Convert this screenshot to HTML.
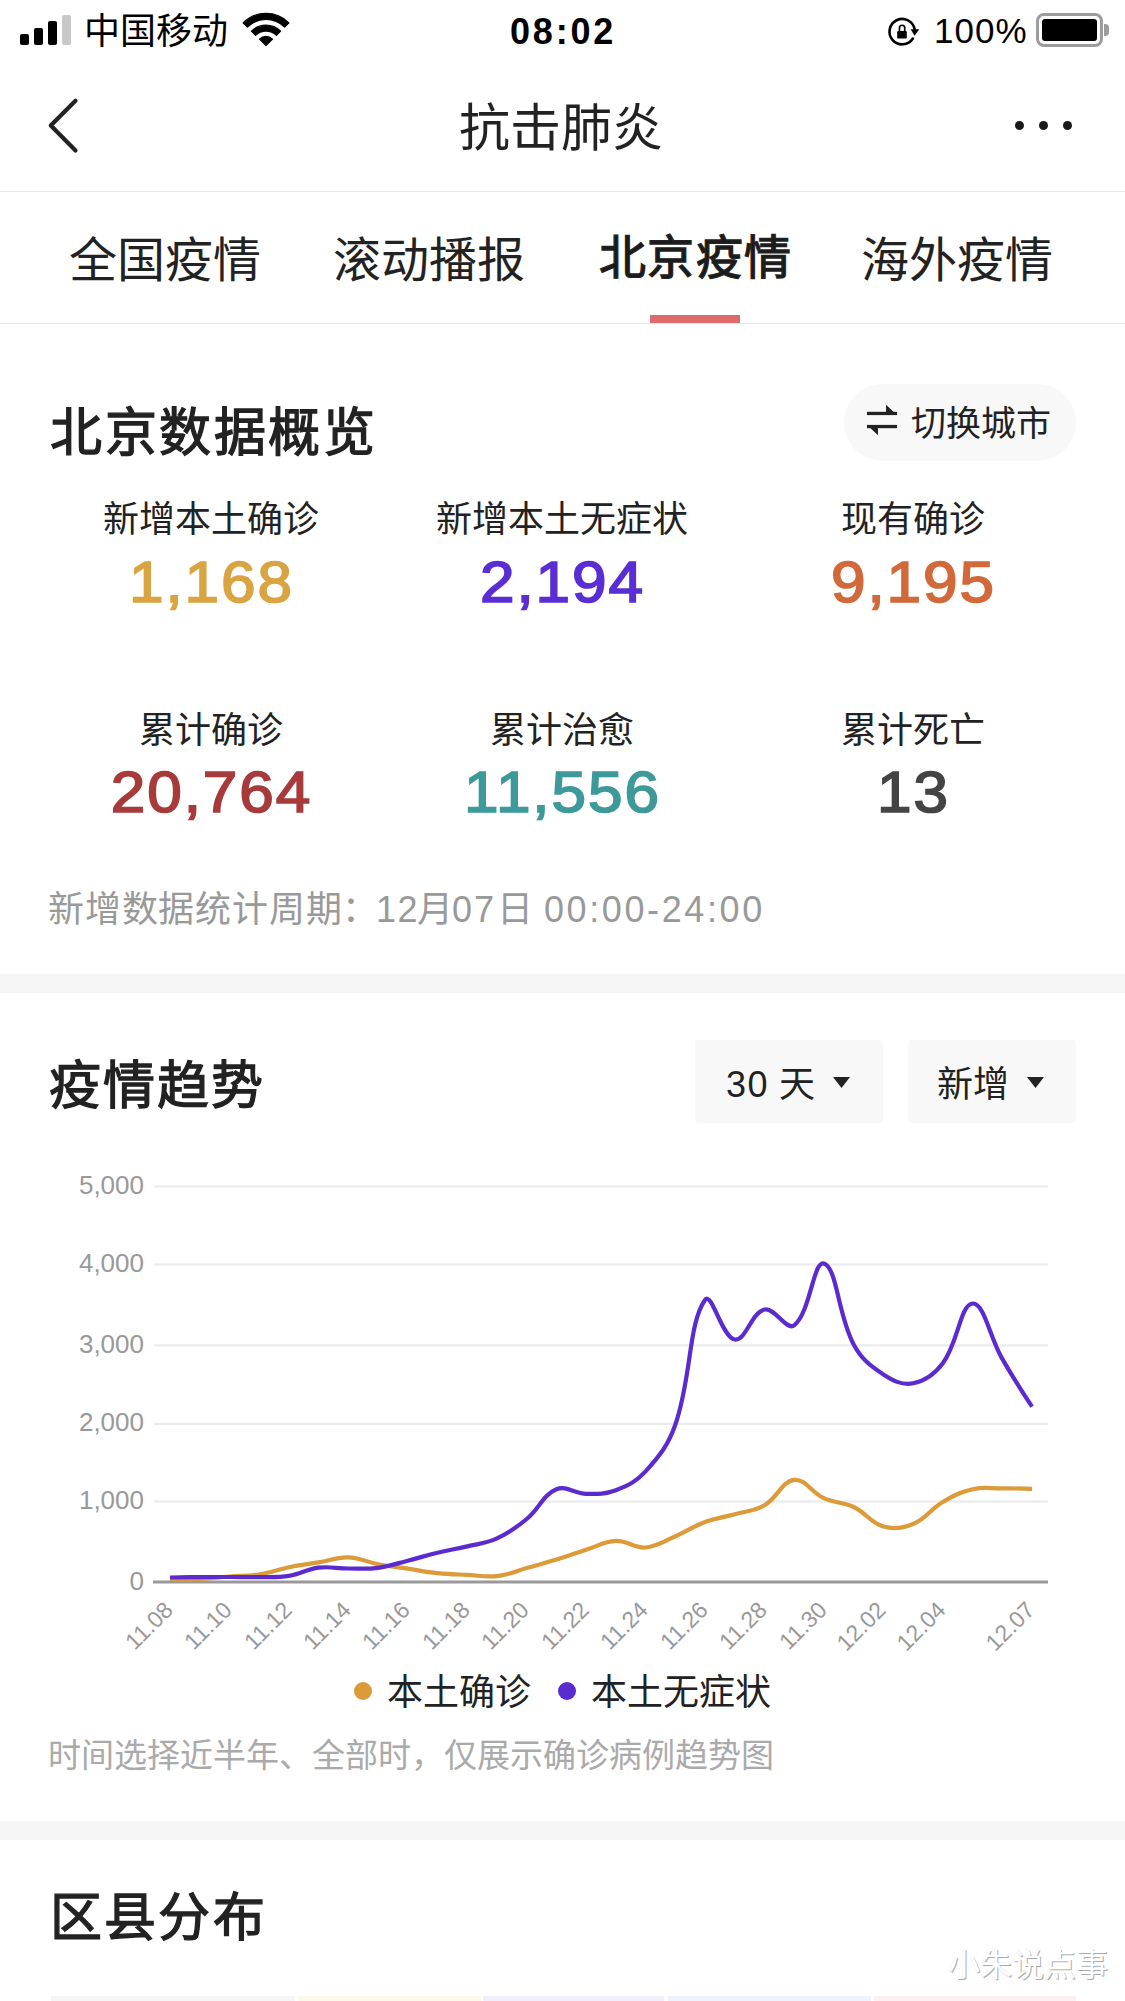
<!DOCTYPE html>
<html lang="zh-CN">
<head>
<meta charset="utf-8">
<style>
*{margin:0;padding:0;box-sizing:border-box}
html,body{width:1125px;height:2001px;overflow:hidden;background:#fff}
body{position:relative;font-family:"Liberation Sans",sans-serif;color:#222}
.a{position:absolute;white-space:nowrap}
.t{line-height:1}
.band{position:absolute;left:0;width:1125px;background:#f6f6f6}
.num{position:absolute;font-weight:normal;-webkit-text-stroke:1.7px currentColor;font-size:58px;line-height:1;text-align:center;width:351px;letter-spacing:1.8px;text-indent:1.8px;transform:scaleX(1.07)}
.lbl{position:absolute;font-size:36px;line-height:1;text-align:center;width:351px;color:#222}
.ylab{position:absolute;right:981px;font-size:26px;line-height:1;color:#999;text-align:right}
.xlab{position:absolute;font-size:23px;line-height:1;color:#999;transform-origin:100% 0;transform:rotate(-45deg);text-align:right}
</style>
</head>
<body>
<!-- status bar -->
<div class="a" style="left:20px;top:34px;width:9px;height:11px;background:#000;border-radius:2px"></div>
<div class="a" style="left:34px;top:28px;width:9px;height:17px;background:#000;border-radius:2px"></div>
<div class="a" style="left:48px;top:21px;width:9px;height:24px;background:#000;border-radius:2px"></div>
<div class="a" style="left:62px;top:15px;width:9px;height:30px;background:#c8c8c8;border-radius:2px"></div>
<div class="a t" style="left:84px;top:14px;font-size:36px;color:#000">中国移动</div>
<svg class="a" style="left:236px;top:8px" width="60" height="42" viewBox="0 0 60 42">
<g fill="#000" stroke="#000" stroke-width="1.2" stroke-linejoin="round">
<path d="M7.1 14.9 A32.4 32.4 0 0 1 52.9 14.9 L48.6 19.2 A26.3 26.3 0 0 0 11.4 19.2 Z"/>
<path d="M15.4 23.2 A20.6 20.6 0 0 1 44.6 23.2 L40.4 27.4 A14.7 14.7 0 0 0 19.6 27.4 Z"/>
<path d="M30 37.6 L23.5 31.1 A9.2 9.2 0 0 1 36.5 31.1 Z"/>
</g>
</svg>
<div class="a t" style="left:510px;top:14px;font-size:36px;font-weight:bold;color:#000;letter-spacing:2.8px">08:02</div>
<svg class="a" style="left:886px;top:16px" width="36" height="32" viewBox="0 0 36 32">
<path d="M28.7 13.4 A12.7 12.7 0 1 0 26.9 22.5" stroke="#000" stroke-width="2.6" fill="none" stroke-linecap="round"/>
<path d="M24.6 13.2 L33.2 13.2 L28.6 19.8 Z" fill="#000"/>
<rect x="11.2" y="15" width="9.6" height="7.6" rx="1.2" fill="#000"/>
<path d="M13.45 15.5 V11.9 A2.65 2.65 0 0 1 18.75 11.9 V15.5" stroke="#000" stroke-width="1.7" fill="none"/>
</svg>
<div class="a t" style="left:934px;top:13px;font-size:35px;color:#000;letter-spacing:1px">100%</div>
<div class="a" style="left:1036px;top:13px;width:67px;height:34px;border:3px solid #9c9c9c;border-radius:8px"></div>
<div class="a" style="left:1042px;top:19px;width:55px;height:22px;background:#000;border-radius:3px"></div>
<div class="a" style="left:1104px;top:24px;width:5px;height:12px;background:#9c9c9c;border-radius:0 4px 4px 0"></div>
<!-- nav -->
<svg class="a" style="left:40px;top:95px" width="45" height="62" viewBox="0 0 45 62">
<path d="M35.5 5.7 L10.8 30.6 L35.5 55.4" stroke="#222" stroke-width="4.2" stroke-linecap="round" stroke-linejoin="round" fill="none"/>
</svg>
<div class="a t" style="left:459px;top:103px;font-size:51px;color:#222">抗击肺炎</div>
<div class="a" style="left:1015px;top:121px;width:9px;height:9px;border-radius:50%;background:#1a1a1a"></div>
<div class="a" style="left:1039px;top:121px;width:9px;height:9px;border-radius:50%;background:#1a1a1a"></div>
<div class="a" style="left:1063px;top:121px;width:9px;height:9px;border-radius:50%;background:#1a1a1a"></div>
<div class="a" style="left:0;top:191px;width:1125px;height:1px;background:#e9e9e9"></div>
<!-- tabs -->
<div class="a t" style="left:69px;top:237px;font-size:48px;color:#222">全国疫情</div>
<div class="a t" style="left:333px;top:237px;font-size:48px;color:#222">滚动播报</div>
<div class="a t" style="left:599px;top:234px;font-size:47px;letter-spacing:1.3px;-webkit-text-stroke:1.3px #222;color:#1a1a1a">北京疫情</div>
<div class="a t" style="left:861px;top:237px;font-size:48px;color:#222">海外疫情</div>
<div class="a" style="left:650px;top:315px;width:90px;height:8px;background:#dd6b6b"></div>
<div class="a" style="left:0;top:323px;width:1125px;height:1px;background:#e9e9e9"></div>
<!-- overview -->
<div class="a t" style="left:50px;top:407px;font-size:52px;letter-spacing:2.6px;-webkit-text-stroke:1.3px #222;color:#222">北京数据概览</div>
<div class="a" style="left:844px;top:384px;width:232px;height:77px;border-radius:38.5px;background:#f8f8f8"></div>
<svg class="a" style="left:865px;top:403px" width="34" height="34" viewBox="0 0 34 34">
<g fill="#222">
<rect x="2" y="8.8" width="30" height="3.3"/>
<path d="M21 1.8 L32 12.1 L21 12.1 Z"/>
<rect x="2" y="21.9" width="30" height="3.3"/>
<path d="M2 21.9 L13 21.9 L13 32.2 Z"/>
</g>
</svg>
<div class="a t" style="left:911px;top:406px;font-size:35px;color:#222">切换城市</div>

<div class="lbl" style="left:35px;top:502px">新增本土确诊</div>
<div class="lbl" style="left:386px;top:502px">新增本土无症状</div>
<div class="lbl" style="left:737px;top:502px">现有确诊</div>
<div class="num" style="left:35px;top:553px;color:#d9a441">1,168</div>
<div class="num" style="left:386px;top:553px;color:#5a2ed4">2,194</div>
<div class="num" style="left:737px;top:553px;color:#d2693a">9,195</div>
<div class="lbl" style="left:35px;top:713px">累计确诊</div>
<div class="lbl" style="left:386px;top:713px">累计治愈</div>
<div class="lbl" style="left:737px;top:713px">累计死亡</div>
<div class="num" style="left:35px;top:763px;color:#a73a3a">20,764</div>
<div class="num" style="left:386px;top:763px;color:#3e9a9a">11,556</div>
<div class="num" style="left:737px;top:763px;color:#444">13</div>
<div class="a t" style="left:48px;top:892px;font-size:36px;color:#999;letter-spacing:0.8px">新增数据统计周期：</div>
<div class="a t" style="left:376px;top:892px;font-size:36px;color:#999;letter-spacing:1.5px">12</div>
<div class="a t" style="left:417px;top:892px;font-size:36px;color:#999">月</div>
<div class="a t" style="left:452px;top:892px;font-size:36px;color:#999;letter-spacing:2px">07</div>
<div class="a t" style="left:497px;top:892px;font-size:36px;color:#999">日</div>
<div class="a t" style="left:544px;top:892px;font-size:36px;color:#999;letter-spacing:2.6px">00:00-24:00</div>
<div class="band" style="top:974px;height:19px"></div>
<!-- trend -->
<div class="a t" style="left:49px;top:1060px;font-size:52px;letter-spacing:2px;-webkit-text-stroke:1.3px #222;color:#222">疫情趋势</div>
<div class="a" style="left:695px;top:1040px;width:188px;height:83px;border-radius:4px;background:#f8f8f8"></div>
<div class="a" style="left:908px;top:1040px;width:168px;height:83px;border-radius:4px;background:#f8f8f8"></div>
<div class="a t" style="left:726px;top:1067px;font-size:36px;color:#222"><span style="letter-spacing:1.5px">30</span> 天</div>
<svg class="a" style="left:833px;top:1077px" width="17" height="11" viewBox="0 0 17 11"><path d="M0 0 H17 L8.5 11 Z" fill="#222"/></svg>
<div class="a t" style="left:937px;top:1067px;font-size:36px;color:#222">新增</div>
<svg class="a" style="left:1027px;top:1077px" width="17" height="11" viewBox="0 0 17 11"><path d="M0 0 H17 L8.5 11 Z" fill="#222"/></svg>

<svg class="a" style="left:0;top:0" width="1125" height="2001" viewBox="0 0 1125 2001">
<g stroke="#ececec" stroke-width="2.4"><path d="M154 1186.4 H1048"/><path d="M154 1264.6 H1048"/><path d="M154 1345.4 H1048"/><path d="M154 1423.9 H1048"/><path d="M154 1501.5 H1048"/></g>
<path d="M153 1582 H1048" stroke="#999" stroke-width="3"/>
<path id="po" d="M170.0 1579.5 C170.0 1579.5 187.9 1579.6 199.7 1579.0 C211.6 1578.4 217.6 1577.4 229.4 1576.5 C241.3 1575.6 247.4 1576.3 259.2 1574.5 C271.2 1572.6 276.9 1569.7 288.9 1567.3 C300.7 1564.9 306.7 1564.4 318.6 1562.4 C330.5 1560.4 336.5 1556.9 348.3 1557.3 C360.3 1557.7 366.1 1561.9 378.1 1564.2 C389.9 1566.5 395.9 1566.9 407.8 1568.7 C419.7 1570.5 425.6 1571.9 437.5 1573.1 C449.4 1574.3 455.3 1574.3 467.2 1574.9 C479.1 1575.5 485.3 1577.4 497.0 1576.1 C509.1 1574.7 514.8 1571.4 526.7 1568.1 C538.6 1564.8 544.6 1563.2 556.4 1559.6 C568.4 1555.9 574.2 1553.6 586.1 1549.8 C598.0 1546.1 603.9 1541.4 615.9 1540.9 C627.6 1540.4 633.9 1548.4 645.6 1547.5 C657.7 1546.6 663.7 1541.4 675.3 1536.4 C687.4 1531.2 692.7 1526.6 705.0 1522.0 C716.5 1517.7 722.9 1517.5 734.8 1514.2 C746.7 1510.8 754.0 1511.4 764.5 1505.3 C777.7 1497.7 781.6 1481.4 794.2 1479.9 C805.4 1478.6 811.3 1492.5 823.9 1498.2 C835.1 1503.3 842.6 1501.7 853.7 1507.0 C866.4 1513.0 870.4 1522.8 883.4 1526.5 C894.2 1529.6 902.5 1528.4 913.1 1524.0 C926.3 1518.6 930.1 1509.4 942.8 1502.0 C953.9 1495.5 960.2 1492.1 972.6 1489.3 C983.9 1486.7 990.4 1488.5 1002.3 1488.4 C1014.2 1488.3 1032.0 1488.8 1032.0 1488.8" stroke="#dc9a38" stroke-width="4.2" fill="none" stroke-linejoin="round" stroke-linecap="butt"/>
<path id="pp" d="M170.0 1577.5 C170.0 1577.5 187.8 1577.2 199.7 1577.1 C211.6 1577.0 217.6 1577.0 229.4 1577.0 C241.3 1577.0 247.3 1577.3 259.2 1577.1 C271.1 1576.9 277.2 1577.7 288.9 1575.9 C301.0 1574.0 306.5 1569.2 318.6 1567.7 C330.3 1566.2 336.5 1568.5 348.3 1568.5 C360.2 1568.5 366.3 1569.3 378.1 1567.8 C390.1 1566.2 395.9 1563.7 407.8 1560.7 C419.7 1557.7 425.6 1555.6 437.5 1552.7 C449.3 1549.9 455.4 1549.2 467.2 1546.4 C479.2 1543.5 485.9 1543.5 497.0 1538.4 C509.7 1532.5 515.8 1528.0 526.7 1519.0 C539.6 1508.4 542.6 1495.2 556.4 1489.3 C566.3 1485.1 574.2 1493.6 586.1 1493.8 C598.0 1494.0 604.9 1494.3 615.9 1490.2 C628.7 1485.3 636.3 1481.5 645.6 1471.3 C660.1 1455.3 668.1 1445.3 675.3 1424.7 C691.9 1376.8 687.9 1324.6 705.0 1300.0 C711.7 1290.5 721.9 1337.5 734.8 1339.5 C745.7 1341.3 751.3 1312.7 764.5 1309.5 C775.0 1307.0 786.4 1331.4 794.2 1325.3 C810.2 1313.0 813.4 1260.1 823.9 1263.5 C837.2 1267.8 837.7 1314.6 853.7 1344.4 C861.5 1359.0 869.7 1365.4 883.4 1374.4 C893.5 1381.0 902.1 1385.4 913.1 1383.3 C925.8 1380.9 934.5 1374.4 942.8 1363.3 C958.3 1342.5 960.3 1304.4 972.6 1303.5 C984.1 1302.6 989.7 1337.1 1002.3 1358.9 C1013.5 1378.4 1032.0 1406.7 1032.0 1406.7" stroke="#5b2bd0" stroke-width="4.2" fill="none" stroke-linejoin="round" stroke-linecap="butt"/>
</svg>
<div class="ylab" style="top:1171.9px">5,000</div>
<div class="ylab" style="top:1250.1px">4,000</div>
<div class="ylab" style="top:1330.9px">3,000</div>
<div class="ylab" style="top:1409.4px">2,000</div>
<div class="ylab" style="top:1487.0px">1,000</div>
<div class="ylab" style="top:1567.5px">0</div>
<div class="xlab" style="right:964.5px;top:1598px">11.08</div>
<div class="xlab" style="right:905.1px;top:1598px">11.10</div>
<div class="xlab" style="right:845.6px;top:1598px">11.12</div>
<div class="xlab" style="right:786.2px;top:1598px">11.14</div>
<div class="xlab" style="right:726.7px;top:1598px">11.16</div>
<div class="xlab" style="right:667.3px;top:1598px">11.18</div>
<div class="xlab" style="right:607.8px;top:1598px">11.20</div>
<div class="xlab" style="right:548.4px;top:1598px">11.22</div>
<div class="xlab" style="right:488.9px;top:1598px">11.24</div>
<div class="xlab" style="right:429.5px;top:1598px">11.26</div>
<div class="xlab" style="right:370.0px;top:1598px">11.28</div>
<div class="xlab" style="right:310.6px;top:1598px">11.30</div>
<div class="xlab" style="right:251.1px;top:1598px">12.02</div>
<div class="xlab" style="right:191.7px;top:1598px">12.04</div>
<div class="xlab" style="right:102.5px;top:1598px">12.07</div>
<div class="a" style="left:354px;top:1682px;width:18px;height:18px;border-radius:50%;background:#dc9a38"></div>
<div class="a t" style="left:387px;top:1675px;font-size:36px;color:#222">本土确诊</div>
<div class="a" style="left:558px;top:1682px;width:18px;height:18px;border-radius:50%;background:#5b2bd0"></div>
<div class="a t" style="left:591px;top:1675px;font-size:36px;color:#222">本土无症状</div>
<div class="a t" style="left:48px;top:1739px;font-size:33px;color:#aaa">时间选择近半年、全部时，仅展示确诊病例趋势图</div>
<div class="band" style="top:1821px;height:19px"></div>
<!-- district -->
<div class="a t" style="left:50px;top:1892px;font-size:52px;letter-spacing:2.2px;-webkit-text-stroke:1.3px #222;color:#222">区县分布</div>
<div class="a t" style="left:948px;top:1949px;font-size:32px;color:#fff;text-shadow:1px 1px 0 #aaa,-0.5px -0.5px 0 #ddd">小朱说点事</div>
<div class="a" style="left:51px;top:1996px;width:244px;height:5px;background:#f5f5f5"></div>
<div class="a" style="left:298px;top:1996px;width:183px;height:5px;background:#fdf9ea"></div>
<div class="a" style="left:483px;top:1996px;width:181px;height:5px;background:#f2eefd"></div>
<div class="a" style="left:668px;top:1996px;width:203px;height:5px;background:#eef3fd"></div>
<div class="a" style="left:874px;top:1996px;width:202px;height:5px;background:#fdf0f0"></div>
</body>
</html>
